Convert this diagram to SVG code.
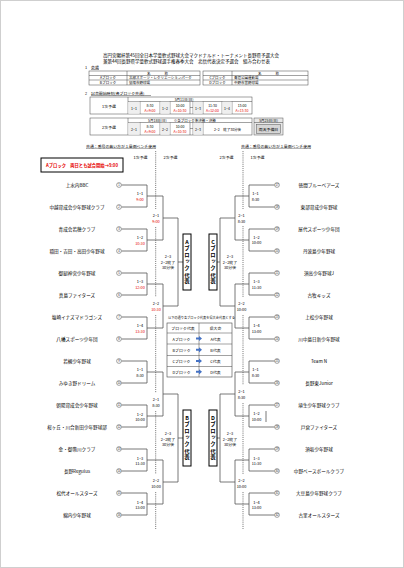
<svg xmlns="http://www.w3.org/2000/svg" width="404" height="568" viewBox="0 0 404 568">
<style>
text{font-family:"Noto Sans CJK JP","Noto Sans",sans-serif;fill:#000;dominant-baseline:central}
.h{font-size:4.5px}
.s{font-size:3.9px}
.xs{font-size:3.5px}
.m{text-anchor:middle}
.n{font-size:4.6px;text-anchor:middle}
.c{font-size:2.7px;text-anchor:middle;font-family:"Liberation Sans",sans-serif;fill:#222}
.cc{fill:#fff;stroke:#333;stroke-width:0.45}
.l{font-size:3.9px;text-anchor:middle}
.r{fill:#e60000}
.ln{stroke:#555;stroke-width:0.8;fill:none}
.dot{stroke:#333;stroke-width:0.8;stroke-dasharray:0.8 1.1;fill:none}
.tb{stroke:#444;stroke-width:0.5;fill:none}
.box{fill:#fff;stroke:#000;stroke-width:1}
.v{font-size:5.4px;font-weight:bold;writing-mode:vertical-rl;text-orientation:upright;text-anchor:middle;letter-spacing:1.2px}
</style>
<defs>
<path id="arr" d="M-3 -1H0V-2.6L3 0L0 2.6V1H-3Z" fill="#4472c4"/>
<circle id="cr" r="2.4" class="cc"/>
</defs>
<rect x="0.5" y="0.5" width="403" height="567" fill="#fff" stroke="#cfcfcf"/>

<g id="header">
<text class="h" x="103" y="55">高円宮賜杯第45回全日本学童軟式野球大会マクドナルド・トーナメント長野県予選大会</text>
<text class="h" x="103" y="61">兼第44回長野県学童軟式野球選手権春季大会　北信代表決定予選会　組み合わせ表</text>
<text class="s" x="85" y="67">1</text>
<text class="s" x="91" y="67">会場</text>
<line class="tb" x1="91" y1="69.5" x2="99" y2="69.5"/>
</g>

<g id="venues">
<rect class="tb" x="89" y="71" width="111" height="14"/>
<path class="tb" d="M127 71V85M89 75.5H200M89 80H200"/>
<text class="xs m" x="157.5" y="73.3">名　　　　称</text>
<text class="xs m" x="108" y="77.8">Aブロック</text>
<text class="xs" x="129" y="77.8">北部スポーツ・レクリエーションパーク</text>
<text class="xs m" x="108" y="82.5">Bブロック</text>
<text class="xs" x="129" y="82.5">須坂市野球場</text>
<rect class="tb" x="203" y="71" width="105" height="14"/>
<path class="tb" d="M232 71V85M203 75.5H308M203 80H308"/>
<text class="xs m" x="268.5" y="73.3">名　　　　称</text>
<text class="xs m" x="217.5" y="77.8">Cブロック</text>
<text class="xs" x="234" y="77.8">青垣公園運動場</text>
<text class="xs m" x="217.5" y="82.5">Dブロック</text>
<text class="xs" x="234" y="82.5">中野市営野球場</text>
</g>

<g id="schedule">
<text class="s" x="85" y="93">2</text>
<text class="s" x="91" y="93">試合開始時刻(各ブロック共通)</text>
<line class="tb" x1="91" y1="95.5" x2="151" y2="95.5"/>
<rect class="tb" x="90" y="97" width="162" height="17"/>
<path class="tb" d="M128 97V114M128 101.5H252M140 101.5V114M160 101.5V114M170 101.5V114M190 101.5V114M193 101.5V114M203 101.5V114M222 101.5V114M232 101.5V114M190 107.5H193"/>
<rect x="128.3" y="101.8" width="11.4" height="11.9" fill="#efefef"/>
<rect x="160.3" y="101.8" width="9.4" height="11.9" fill="#efefef"/>
<rect x="193.3" y="101.8" width="9.4" height="11.9" fill="#efefef"/>
<rect x="222.3" y="101.8" width="9.4" height="11.9" fill="#efefef"/>
<text class="s m" x="109" y="106">1次予選</text>
<text class="xs m" x="184" y="99.3">5月11日(日)</text>
<text class="xs m" x="134" y="108">1−1</text>
<text class="xs m" x="150" y="105.3">8:30</text>
<text class="xs m r" x="150" y="110.3">A=9:00</text>
<text class="xs m" x="165" y="108">1−2</text>
<text class="xs m" x="180" y="105.3">10:00</text>
<text class="xs m r" x="180" y="110.3">A=10:30</text>
<text class="xs m" x="198" y="108">1−3</text>
<text class="xs m" x="212.5" y="105.3">11:30</text>
<text class="xs m r" x="212.5" y="110.3">A=12:00</text>
<text class="xs m" x="227" y="108">1−4</text>
<text class="xs m" x="242" y="105.3">13:00</text>
<text class="xs m r" x="242" y="110.3">A=13:30</text>

<rect class="tb" x="90" y="118" width="162" height="17"/>
<path class="tb" d="M128 118V135M128 122.5H252M140 122.5V135M160 122.5V135M170 122.5V135M190 122.5V135M193 122.5V135M203 122.5V135M190 128.5H193"/>
<rect x="128.3" y="122.8" width="11.4" height="11.9" fill="#efefef"/>
<rect x="160.3" y="122.8" width="9.4" height="11.9" fill="#efefef"/>
<rect x="193.3" y="122.8" width="9.4" height="11.9" fill="#efefef"/>
<text class="s m" x="109" y="127">2次予選</text>
<text class="xs" x="148" y="120.3">5月18日(日)　　※各ブロック準決勝・決勝</text>
<text class="xs m" x="134" y="129">2−1</text>
<text class="xs m" x="150" y="126.3">8:30</text>
<text class="xs m r" x="150" y="131.3">A=9:00</text>
<text class="xs m" x="165" y="129">2−2</text>
<text class="xs m" x="180" y="126.3">10:00</text>
<text class="xs m r" x="180" y="131.3">A=10:30</text>
<text class="xs m" x="198" y="129">2−3</text>
<text class="xs m" x="227.5" y="129">2−2　終了30分後</text>

<rect x="254" y="118" width="29" height="17" fill="#e8e8e8" stroke="#555" stroke-width="0.5"/>
<line class="tb" x1="254" y1="122.5" x2="283" y2="122.5"/>
<text class="xs m" x="268.5" y="120.4">5月25日(日)</text>
<rect x="256.5" y="124.5" width="24" height="9" fill="#d6d6d6" stroke="#555" stroke-width="0.5"/>
<text class="s m" x="268.5" y="129">雨天予備日</text>

<text class="s" x="86" y="146">共通：番号の若い方が１塁側ベンチ使用</text>
<line class="tb" x1="86" y1="148.3" x2="156" y2="148.3"/>
<text class="s" x="241" y="146">共通：番号の若い方が１塁側ベンチ使用</text>
<line class="tb" x1="241" y1="148.3" x2="311" y2="148.3"/>
</g>

<g id="rounds">
<text class="l" x="140.5" y="157">1次予選</text>
<text class="l" x="170.5" y="157">2次予選</text>
<text class="l" x="226.5" y="157">2次予選</text>
<text class="l" x="257.5" y="157">1次予選</text>
</g>

<g id="noteA">
<rect x="41" y="158" width="82" height="14" fill="#fff" stroke="#000" stroke-width="1"/>
<text class="r m" x="82" y="165" style="font-size:4.3px;font-weight:bold">Aブロック　両日とも試合開始→9:00</text>
</g>

<g id="connectors">
<path class="dot" d="M155.7 151V209M155.7 227V297M155.7 315V393M155.7 411V474M155.7 492V529"/>
<path class="dot" d="M243 151V209M243 226V297M243 315V385M243 403V474M243 492V529"/>
<path class="ln" d="M121.5 185H147V207H121.5M147 196H163M121.5 229H147V251H121.5M147 240H163M121.5 273H147V295H121.5M147 284H163M121.5 317H147V339H121.5M147 328H163M163 196V240M163 218H178M163 284V328M163 306H178M178 218V306M178 262H183"/>
<path class="ln" d="M121.5 361H147V383H121.5M147 372H163M121.5 405H147V427H121.5M147 416H163M121.5 449H147V471H121.5M147 460H163M121.5 493H147V515H121.5M147 504H163M163 372V416M163 394H178M163 460V504M163 482H178M178 394V482M178 438H183"/>
<path class="ln" d="M274.5 185H249V207H274.5M249 196H235M274.5 229H249V251H274.5M249 240H235M274.5 273H249V295H274.5M249 284H235M274.5 317H249V339H274.5M249 328H235M235 196V240M235 218H220M235 284V328M235 306H220M220 218V306M220 262H217"/>
<path class="ln" d="M274.5 361H249V383H274.5M249 372H235M274.5 405H249V427H274.5M249 416H235M274.5 449H249V471H274.5M249 460H235M274.5 493H249V515H274.5M249 504H235M235 372V416M235 394H220M235 460V504M235 482H220M220 394V482M220 438H217"/>
<path class="ln" d="M266 411V422"/>
</g>

<g id="matchlabels">
<text class="l" x="140" y="193.2">1−1</text><text class="l r" x="140" y="198.8">9:00</text>
<text class="l" x="140" y="237.2">1−2</text><text class="l r" x="140" y="242.8">10:30</text>
<text class="l" x="140" y="281.2">1−3</text><text class="l r" x="140" y="286.8">12:00</text>
<text class="l" x="140" y="325.2">1−4</text><text class="l r" x="140" y="330.8">13:30</text>
<text class="l" x="156" y="215">2−1</text><text class="l r" x="156" y="220.5">9:00</text>
<text class="l" x="156" y="303">2−2</text><text class="l r" x="156" y="308.7">10:30</text>
<text class="l" x="168" y="256">2−3</text><text class="l" x="168" y="261.5">2−2終了</text><text class="l" x="168" y="267">30分後</text>

<text class="l" x="140" y="369.2">1−1</text><text class="l" x="140" y="374.8">8:30</text>
<text class="l" x="140" y="413.5">1−2</text><text class="l" x="140" y="419.2">10:00</text>
<text class="l" x="140" y="457.5">1−3</text><text class="l" x="140" y="463">11:30</text>
<text class="l" x="140" y="501.5">1−4</text><text class="l" x="140" y="507">13:00</text>
<text class="l" x="156" y="399">2−1</text><text class="l" x="156" y="404.7">8:30</text>
<text class="l" x="156" y="480">2−2</text><text class="l" x="156" y="485.7">10:00</text>
<text class="l" x="168" y="433">2−3</text><text class="l" x="168" y="438.5">2−2終了</text><text class="l" x="168" y="444">30分後</text>

<text class="l" x="255.5" y="193.2">1−1</text><text class="l" x="255.5" y="198.8">8:30</text>
<text class="l" x="256.5" y="236.8">1−2</text><text class="l" x="256.5" y="242.4">10:00</text>
<text class="l" x="256.5" y="281.2">1−3</text><text class="l" x="256.5" y="286.8">11:30</text>
<text class="l" x="256.5" y="325.2">1−4</text><text class="l" x="256.5" y="330.8">13:00</text>
<text class="l" x="241.5" y="215">2−1</text><text class="l" x="241.5" y="220.5">8:30</text>
<text class="l" x="241.5" y="303">2−2</text><text class="l" x="241.5" y="308.7">10:00</text>
<text class="l" x="230" y="256">2−3</text><text class="l" x="230" y="261.5">2−2終了</text><text class="l" x="230" y="267">30分後</text>

<text class="l" x="255.5" y="369.2">1−1</text><text class="l" x="255.5" y="374.8">8:30</text>
<text class="l" x="256.5" y="413.2">1−2</text><text class="l" x="256.5" y="418.8">10:00</text>
<text class="l" x="256.5" y="457.5">1−3</text><text class="l" x="256.5" y="463">11:30</text>
<text class="l" x="256.5" y="501.5">1−4</text><text class="l" x="256.5" y="507">13:00</text>
<text class="l" x="241.5" y="391">2−1</text><text class="l" x="241.5" y="396.7">8:30</text>
<text class="l" x="241.5" y="480">2−2</text><text class="l" x="241.5" y="485.7">10:00</text>
<text class="l" x="230" y="433">2−3</text><text class="l" x="230" y="438.5">2−2終了</text><text class="l" x="230" y="444">30分後</text>
</g>

<g id="teams-left">
<g id="t1"><text class="n" x="77" y="185">上水内BBC</text><use href="#cr" x="119" y="185"/><text class="c" x="119" y="185">1</text></g>
<g id="t2"><text class="n" x="77" y="207">中越育成会少年野球クラブ</text><use href="#cr" x="119" y="207"/><text class="c" x="119" y="207">2</text></g>
<g id="t3"><text class="n" x="77" y="229">青成会若穂クラブ</text><use href="#cr" x="119" y="229"/><text class="c" x="119" y="229">3</text></g>
<g id="t4"><text class="n" x="77" y="251">稲田・吉田・高田少年野球</text><use href="#cr" x="119" y="251"/><text class="c" x="119" y="251">4</text></g>
<g id="t5"><text class="n" x="77" y="273">御厨神宮少年野球</text><use href="#cr" x="119" y="273"/><text class="c" x="119" y="273">5</text></g>
<g id="t6"><text class="n" x="77" y="295">真島ファイターズ</text><use href="#cr" x="119" y="295"/><text class="c" x="119" y="295">6</text></g>
<g id="t7"><text class="n" x="77" y="317">塩崎イナズマドラゴンズ</text><use href="#cr" x="119" y="317"/><text class="c" x="119" y="317">7</text></g>
<g id="t8"><text class="n" x="77" y="339">八幡スポーツ少年団</text><use href="#cr" x="119" y="339"/><text class="c" x="119" y="339">8</text></g>
<g id="t9"><text class="n" x="77" y="361">若槻少年野球</text><use href="#cr" x="119" y="361"/><text class="c" x="119" y="361">9</text></g>
<g id="t10"><text class="n" x="77" y="383">みゆき野ドリーム</text><use href="#cr" x="119" y="383"/><text class="c" x="119" y="383">10</text></g>
<g id="t11"><text class="n" x="77" y="405">朝陽育成会少年野球</text><use href="#cr" x="119" y="405"/><text class="c" x="119" y="405">11</text></g>
<g id="t12"><text class="n" x="77" y="427">桜ヶ丘・川合新田少年野球部</text><use href="#cr" x="119" y="427"/><text class="c" x="119" y="427">12</text></g>
<g id="t13"><text class="n" x="77" y="449">金・御幣川クラブ</text><use href="#cr" x="119" y="449"/><text class="c" x="119" y="449">13</text></g>
<g id="t14"><text class="n" x="77" y="471">長野Regulus</text><use href="#cr" x="119" y="471"/><text class="c" x="119" y="471">14</text></g>
<g id="t15"><text class="n" x="77" y="493">松代オールスターズ</text><use href="#cr" x="119" y="493"/><text class="c" x="119" y="493">15</text></g>
<g id="t16"><text class="n" x="77" y="515">綿内少年野球</text><use href="#cr" x="119" y="515"/><text class="c" x="119" y="515">16</text></g>
</g>

<g id="teams-right">
<g id="t17"><text class="n" x="319" y="185">徳間ブルーベアーズ</text><use href="#cr" x="277" y="185"/><text class="c" x="277" y="185">17</text></g>
<g id="t18"><text class="n" x="319" y="207">東部育成少年野球</text><use href="#cr" x="277" y="207"/><text class="c" x="277" y="207">18</text></g>
<g id="t19"><text class="n" x="319" y="229">屋代スポーツ少年団</text><use href="#cr" x="277" y="229"/><text class="c" x="277" y="229">19</text></g>
<g id="t20"><text class="n" x="319" y="251">丹波島少年野球</text><use href="#cr" x="277" y="251"/><text class="c" x="277" y="251">20</text></g>
<g id="t21"><text class="n" x="319" y="273">須高少年野球J</text><use href="#cr" x="277" y="273"/><text class="c" x="277" y="273">21</text></g>
<g id="t22"><text class="n" x="319" y="295">古牧キッズ</text><use href="#cr" x="277" y="295"/><text class="c" x="277" y="295">22</text></g>
<g id="t23"><text class="n" x="319" y="317">上松少年野球</text><use href="#cr" x="277" y="317"/><text class="c" x="277" y="317">23</text></g>
<g id="t24"><text class="n" x="319" y="339">川中島日新少年野球</text><use href="#cr" x="277" y="339"/><text class="c" x="277" y="339">24</text></g>
<g id="t25"><text class="n" x="319" y="361">Team N</text><use href="#cr" x="277" y="361"/><text class="c" x="277" y="361">25</text></g>
<g id="t26"><text class="n" x="319" y="383">長野東Junior</text><use href="#cr" x="277" y="383"/><text class="c" x="277" y="383">26</text></g>
<g id="t27"><text class="n" x="319" y="405">埴生少年野球クラブ</text><use href="#cr" x="277" y="405"/><text class="c" x="277" y="405">27</text></g>
<g id="t28"><text class="n" x="319" y="427">戸倉ファイターズ</text><use href="#cr" x="277" y="427"/><text class="c" x="277" y="427">28</text></g>
<g id="t29"><text class="n" x="319" y="449">須坂少年野球</text><use href="#cr" x="277" y="449"/><text class="c" x="277" y="449">29</text></g>
<g id="t30"><text class="n" x="319" y="471">中野ベースボールクラブ</text><use href="#cr" x="277" y="471"/><text class="c" x="277" y="471">30</text></g>
<g id="t31"><text class="n" x="319" y="493">大豆島少年野球クラブ</text><use href="#cr" x="277" y="493"/><text class="c" x="277" y="493">31</text></g>
<g id="t32"><text class="n" x="319" y="515">古里オールスターズ</text><use href="#cr" x="277" y="515"/><text class="c" x="277" y="515">32</text></g>
</g>

<g id="boxA"><rect class="box" x="183" y="234" width="8" height="56"/><text class="v" x="187" y="262">Aブロック代表</text></g>
<g id="boxB"><rect class="box" x="183" y="410" width="8" height="56"/><text class="v" x="187" y="438">Bブロック代表</text></g>
<g id="boxC"><rect class="box" x="209" y="234" width="8" height="56"/><text class="v" x="213" y="262">Cブロック代表</text></g>
<g id="boxD"><rect class="box" x="209" y="410" width="8" height="56"/><text class="v" x="213" y="438">Dブロック代表</text></g>

<g id="legend">
<text x="168" y="317" style="font-size:3.2px">以下の通り各ブロック代表を県大会代表とする</text>
<rect x="167" y="323" width="65" height="54" fill="#fff" stroke="#444" stroke-width="0.6"/>
<path class="tb" d="M199 323V377M167 333H232M167 344H232M167 355.5H232M167 366.5H232"/>
<text class="s m" x="183" y="328">ブロック代表</text>
<text class="s m" x="215.5" y="328">県大会</text>
<text class="s m" x="181.5" y="338.5">Aブロック</text><text class="s m" x="215.5" y="338.5">A代表</text>
<text class="s m" x="181.5" y="349.8">Bブロック</text><text class="s m" x="215.5" y="349.8">B代表</text>
<text class="s m" x="181.5" y="361">Cブロック</text><text class="s m" x="215.5" y="361">C代表</text>
<text class="s m" x="181.5" y="371.8">Dブロック</text><text class="s m" x="215.5" y="371.8">D代表</text>
<use href="#arr" x="199" y="338.5"/>
<use href="#arr" x="199" y="349.8"/>
<use href="#arr" x="199" y="361"/>
<use href="#arr" x="199" y="371.8"/>
</g>
</svg>
